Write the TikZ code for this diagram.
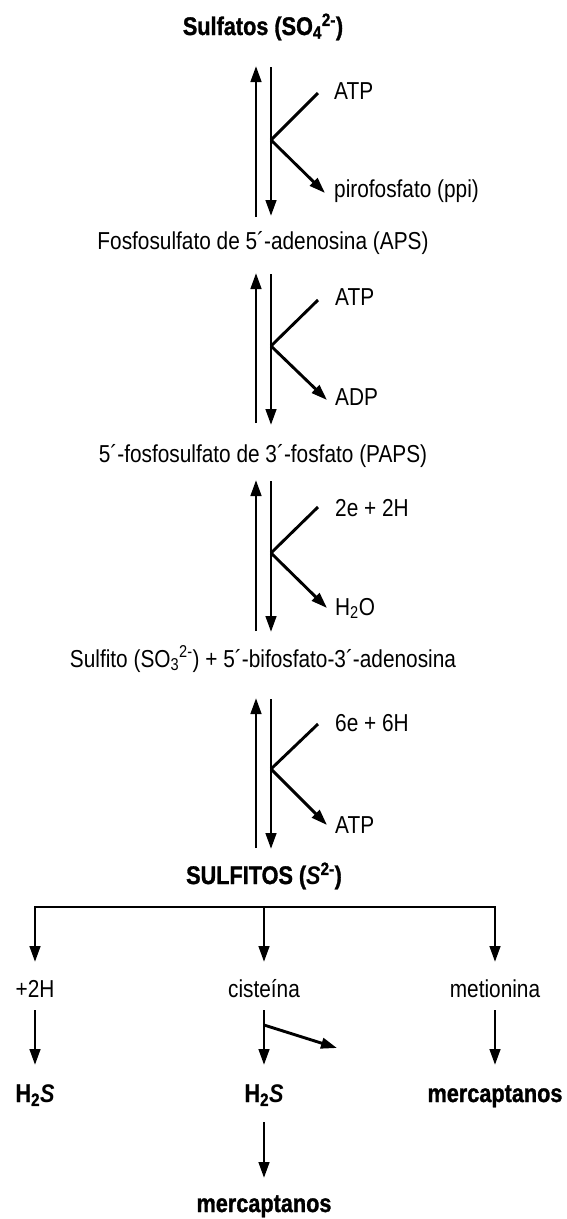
\documentclass[tikz,border=0pt]{standalone}
\usepackage{fontspec}
\setmainfont[FakeStretch=0.85,BoldFeatures={FakeBold=1.2}]{Liberation Sans}
\usetikzlibrary{arrows.meta}
\begin{document}
\begin{tikzpicture}[x=1pt,y=-1pt,
  ln/.style={line width=2.9pt},
  arr/.style={line width=2.9pt,-{Triangle[length=16pt,width=10.5pt]}},
  txt/.style={inner sep=0pt,anchor=base,font=\fontsize{24.5}{28}\selectfont},
  sidetxt/.style={txt,anchor=base west},
  btxt/.style={inner sep=0pt,anchor=base,font=\fontsize{25.5}{29}\selectfont\bfseries}]
\fill[white] (0,0) rectangle (566,1219);
\useasboundingbox (0,0) rectangle (566,1219);

% main labels
\node[btxt] (so4) at (263,35) {Sulfatos (SO\textsubscript{4}\textsuperscript{2-})};
\node[txt] (aps) at (263,249) {Fosfosulfato de 5´-adenosina (APS)};
\node[txt] (paps) at (263,462) {5´-fosfosulfato de 3´-fosfato (PAPS)};
\node[txt] (so3) at (263,667) {Sulfito (SO\textsubscript{3}\textsuperscript{2-}) + 5´-bifosfato-3´-adenosina};
\node[btxt] (s2) at (264,884) {SULFITOS (\textit{S}\textsuperscript{2-})};

% side labels
\node[sidetxt] (atp1) at (334,99) {ATP};
\node[sidetxt] (ppi) at (334,197) {pirofosfato (ppi)};
\node[sidetxt] (atp2) at (335,305) {ATP};
\node[sidetxt] (adp) at (335,405) {ADP};
\node[sidetxt] (e2) at (335,516) {2e + 2H};
\node[sidetxt] (h2o) at (335,615) {H\textsubscript{2}O};
\node[sidetxt] (e6) at (335,731) {6e + 6H};
\node[sidetxt] (atp4) at (335,833) {ATP};

% coordinates block 1
\coordinate (u1b) at (256,217); \coordinate (u1t) at (256,66);
\coordinate (d1t) at (271,67);  \coordinate (d1b) at (271,216);
\coordinate (k1) at (271,140);  \coordinate (k1a) at (318,93); \coordinate (k1b) at (325,193);
% block 2
\coordinate (u2b) at (256,423); \coordinate (u2t) at (256,273);
\coordinate (d2t) at (271,274); \coordinate (d2b) at (271,425);
\coordinate (k2) at (271,346);  \coordinate (k2a) at (318,300); \coordinate (k2b) at (327,400);
% block 3
\coordinate (u3b) at (256,631); \coordinate (u3t) at (256,480);
\coordinate (d3t) at (271,481); \coordinate (d3b) at (271,632);
\coordinate (k3) at (271,553);  \coordinate (k3a) at (318,507); \coordinate (k3b) at (327,608);
% block 4
\coordinate (u4b) at (256,848); \coordinate (u4t) at (256,698);
\coordinate (d4t) at (271,699); \coordinate (d4b) at (271,849);
\coordinate (k4) at (271,769);  \coordinate (k4a) at (318,724); \coordinate (k4b) at (327,825);

\foreach \i in {1,2,3,4}{
  \draw[arr] (u\i b) -- (u\i t);
  \draw[arr] (d\i t) -- (d\i b);
  \draw[ln] (k\i a) -- (k\i);
  \draw[arr] (k\i) -- (k\i b);
}

% tree
\coordinate (barM) at (264,907);
\coordinate (tL) at (35,962); \coordinate (tM) at (264,962); \coordinate (tR) at (495,962);
\node[txt] (h2) at (35,997) {+2H};
\node[txt] (cis) at (264,997) {cisteína};
\node[txt] (met) at (495,997) {metionina};
\draw[arr] (barM) -| (tL);
\draw[arr] (barM) -| (tR);
\draw[arr] (barM) -- (tM);

\coordinate (aL) at (35,1010); \coordinate (bL) at (35,1065);
\coordinate (aM) at (264,1010); \coordinate (bM) at (264,1065);
\coordinate (aR) at (495,1010); \coordinate (bR) at (495,1065);
\coordinate (sM) at (264,1025); \coordinate (sT) at (337,1048);
\draw[arr] (aL) -- (bL);
\draw[arr] (aM) -- (bM);
\draw[arr] (aR) -- (bR);
\draw[arr] (sM) -- (sT);

\node[btxt] (h2sL) at (35,1102) {H\textsubscript{2}\textit{S}};
\node[btxt] (h2sM) at (264,1102) {H\textsubscript{2}\textit{S}};
\node[btxt] (merR) at (495,1102) {mercaptanos};

\coordinate (cM) at (264,1122); \coordinate (dM) at (264,1178);
\draw[arr] (cM) -- (dM);
\node[btxt] (merB) at (264,1212) {mercaptanos};
\end{tikzpicture}
\end{document}
